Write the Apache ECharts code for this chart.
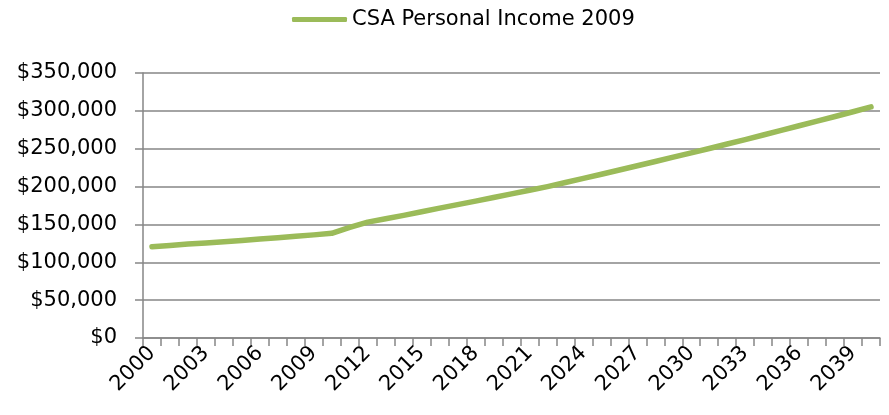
<!DOCTYPE html>
<html>
<head>
<meta charset="utf-8">
<script src="https://cdn.jsdelivr.net/npm/echarts@6/dist/echarts.min.js"></script>
<style>
html,body{margin:0;padding:0;background:#fff;}
#chart{width:889px;height:415px;}
</style>
</head>
<body>
<div id="chart"></div>
<script>
const years = [2000,2001,2002,2003,2004,2005,2006,2007,2008,2009,2010,2011,2012,2013,2014,2015,2016,2017,2018,2019,2020,2021,2022,2023,2024,2025,2026,2027,2028,2029,2030,2031,2032,2033,2034,2035,2036,2037,2038,2039,2040];
const seriesName = 'CSA Personal Income 2009';
const incomeValues = [120500,122300,124000,125600,127200,128900,130700,132500,134300,136200,138200,146000,153000,157500,162000,166800,171500,176200,180800,185600,190400,195200,200000,205300,210800,216300,221900,227500,233100,238800,244500,250300,256200,262100,268100,274200,280300,286400,292500,298800,305200];
const yTicks = {min: 0, max: 350000, interval: 50000};

const FONT = 'DejaVu Sans';
const chart = echarts.init(document.getElementById('chart'), null, {renderer: 'canvas'});
chart.setOption({
  animation: false,
  backgroundColor: '#ffffff',
  textStyle: {fontFamily: FONT},
  legend: {
    left: 292,
    top: 9,
    padding: 0,
    itemWidth: 55,
    itemHeight: 5,
    itemGap: 10,
    icon: 'roundRect',
    textStyle: {fontFamily: FONT, fontSize: 21, color: '#000'},
    data: [seriesName]
  },
  grid: {left: 143, right: 9, top: 73, bottom: 77},
  xAxis: {
    type: 'category',
    data: years.map(String),
    boundaryGap: true,
    axisLine: {lineStyle: {color: '#868686', width: 1.5}},
    axisTick: {show: true, interval: 0, length: 8, lineStyle: {color: '#868686', width: 1.5}},
    axisLabel: {interval: 2, rotate: 45, margin: 12, fontFamily: FONT, fontSize: 21, color: '#000'}
  },
  yAxis: {
    type: 'value',
    min: yTicks.min,
    max: yTicks.max,
    interval: yTicks.interval,
    axisLine: {show: true, lineStyle: {color: '#868686', width: 1.5}},
    axisTick: {show: true, length: 8, lineStyle: {color: '#868686', width: 1.5}},
    splitLine: {lineStyle: {color: '#868686', width: 1.5}},
    axisLabel: {
      margin: 26,
      fontFamily: FONT, fontSize: 21, color: '#000',
      formatter: v => '$' + v.toLocaleString('en-US')
    }
  },
  series: [{
    name: seriesName,
    type: 'line',
    data: incomeValues,
    symbol: 'none',
    color: '#9BBB59',
    lineStyle: {color: '#9BBB59', width: 5.5, cap: 'round', join: 'round'}
  }]
});
</script>
</body>
</html>
